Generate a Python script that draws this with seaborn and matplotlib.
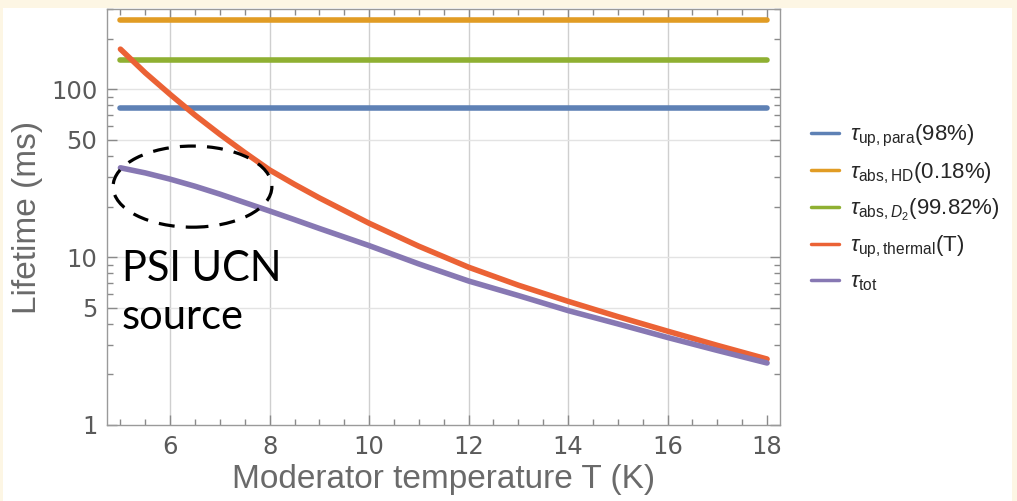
import matplotlib
matplotlib.use('Agg')
import matplotlib.pyplot as plt
import seaborn as sns
import pandas as pd
from matplotlib.patches import Ellipse, Rectangle

# temperature grid (K) and lifetimes (ms)
temps = [5, 5.5, 6, 6.5, 7, 7.5, 8, 8.5, 9, 10, 11, 12, 13, 14, 15, 16, 17, 18]
tau_thermal = [173, 125, 93, 70, 53.8, 41.9, 33, 27.1, 22.5, 15.9, 11.6, 8.7, 6.8, 5.45, 4.42, 3.62, 2.98, 2.47]
tau_tot = [34, 31.7, 29.1, 26.4, 23.7, 21.1, 18.8, 16.7, 14.8, 11.7, 9.1, 7.2, 5.9, 4.8, 4.0, 3.32, 2.78, 2.34]
t_range = [5, 18]
tau_para = 77
tau_hd = 257
tau_d2 = 149

labels = [r'$\tau_{\mathrm{up,para}}$(98%)',
          r'$\tau_{\mathrm{abs,HD}}$(0.18%)',
          r'$\tau_{\mathrm{abs,}D_2}$(99.82%)',
          r'$\tau_{\mathrm{up,thermal}}$(T)',
          r'$\tau_{\mathrm{tot}}$']
colors = ['#5e81b5', '#e19c24', '#8fb032', '#eb6235', '#8778b3']

x_grid = [6, 8, 10, 12, 14, 16]
y_grid = [5, 10, 50, 100]
y_major = [1, 5, 10, 50, 100]
y_minor = [2, 3, 4, 6, 7, 8, 9, 20, 30, 40, 60, 70, 80, 90, 200, 300]

sns.set_style('ticks')
plt.rcParams['font.family'] = ['DejaVu Sans']
plt.rcParams['mathtext.fontset'] = 'custom'
plt.rcParams['mathtext.rm'] = 'Liberation Sans'
plt.rcParams['mathtext.it'] = 'Liberation Sans:italic'

fig = plt.figure(figsize=(10.17, 5.01), dpi=100, facecolor='#fdf6e4')
fig.patches.append(Rectangle((3 / 1017, 0), 1009 / 1017, 493 / 501, transform=fig.transFigure,
                             facecolor='white', edgecolor='none', zorder=-10))
ax = fig.add_axes([107 / 1017, (501 - 425) / 501, 673 / 1017, 416 / 501])
ax.set_facecolor('white')

series = [
    pd.DataFrame({'T': t_range, 'tau': [tau_para] * 2}),
    pd.DataFrame({'T': t_range, 'tau': [tau_hd] * 2}),
    pd.DataFrame({'T': t_range, 'tau': [tau_d2] * 2}),
    pd.DataFrame({'T': temps, 'tau': tau_thermal}),
    pd.DataFrame({'T': temps, 'tau': tau_tot}),
]
for df, lab, col in zip(series, labels, colors):
    sns.lineplot(data=df, x='T', y='tau', ax=ax, color=col, linewidth=4.0, label=lab)

ax.set_yscale('log')
ax.set_xlim(4.73, 18.26)
ax.set_ylim(1, 300)

for xv in x_grid:
    ax.axvline(xv, color='#cfcfcf', lw=1, zorder=0)
for yv in y_grid:
    ax.axhline(yv, color='#e3e3e3', lw=1, zorder=0)

ax.set_xticks([6, 8, 10, 12, 14, 16, 18])
ax.set_xticks([5, 5.5, 6.5, 7, 7.5, 8.5, 9, 9.5, 10.5, 11, 11.5, 12.5, 13, 13.5,
               14.5, 15, 15.5, 16.5, 17, 17.5], minor=True)
ax.set_yticks(y_major)
ax.set_yticks(y_minor, minor=True)
ax.set_yticklabels([str(v) for v in y_major])
ax.set_xticklabels(['6', '8', '10', '12', '14', '16', '18'])
ax.yaxis.set_minor_formatter(matplotlib.ticker.NullFormatter())
ax.tick_params(which='both', direction='in', top=True, right=True, colors='#8a8a8a',
               labelcolor='#5a5a5a', labelsize=17.5, width=1)
ax.tick_params(which='major', length=7, pad=7)
ax.tick_params(which='minor', length=4)
for sp in ax.spines.values():
    sp.set_color('#9a9a9a')
    sp.set_linewidth(1)

ax.set_xlabel('Moderator temperature T (K)', fontsize=24, color='#6a6a6a',
              family='Liberation Sans', labelpad=4)
ax.set_ylabel('Lifetime (ms)', fontsize=24, color='#6a6a6a',
              family='Liberation Sans', labelpad=6)

ax.add_patch(Ellipse((0.127, 0.573), 0.236, 0.195, transform=ax.transAxes, fill=False,
                     edgecolor='black', lw=2.3, linestyle=(0, (5, 3.5)), zorder=5))
ax.text(0.022, 0.42, 'PSI UCN\nsource', transform=ax.transAxes, fontsize=30,
        family='Lato', color='black', va='top', ha='left', linespacing=1.3)

ax.legend(loc='upper left', bbox_to_anchor=(800 / 1017, (501 - 112) / 501),
          bbox_transform=fig.transFigure, frameon=False,
          handlelength=1.25, handletextpad=0.5, labelspacing=0.5, borderpad=0,
          prop={'family': 'Liberation Sans', 'size': 16})
for h in ax.get_legend().get_lines():
    h.set_linewidth(2.5)

fig.savefig('out.png', dpi=100, facecolor=fig.get_facecolor())
